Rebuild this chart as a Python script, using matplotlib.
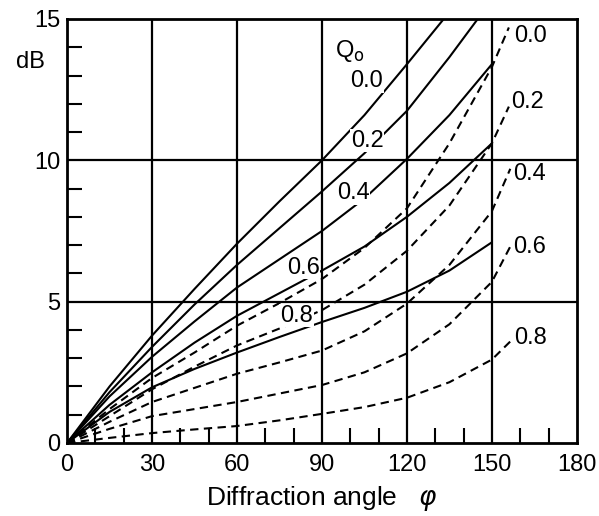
import matplotlib
matplotlib.use('Agg')
import matplotlib.pyplot as plt
from matplotlib.ticker import MultipleLocator

plt.rcParams['font.family'] = ['Liberation Sans', 'DejaVu Sans']

# Q0 values (labels) shared by the solid and dashed families
q_labels = ['0.0', '0.2', '0.4', '0.6', '0.8']

# Solid curves: (angle, dB)
solid_x = [
    [0, 15, 30, 45, 60, 75, 90, 105, 120, 133],
    [0, 15, 30, 45, 60, 75, 90, 105, 120, 135, 145],
    [0, 15, 30, 45, 60, 75, 90, 105, 120, 135, 150],
    [0, 15, 30, 45, 60, 75, 90, 105, 120, 135, 150],
    [0, 15, 30, 45, 60, 75, 90, 105, 120, 135, 150],
]
solid_y = [
    [0, 2.0, 3.8, 5.45, 7.05, 8.55, 10.0, 11.6, 13.4, 15.0],
    [0, 1.8, 3.4, 4.9, 6.3, 7.6, 8.9, 10.25, 11.75, 13.65, 15.0],
    [0, 1.65, 3.05, 4.3, 5.5, 6.5, 7.5, 8.65, 10.05, 11.6, 13.4],
    [0, 1.35, 2.5, 3.55, 4.5, 5.3, 6.1, 6.95, 8.0, 9.2, 10.6],
    [0, 1.1, 1.97, 2.62, 3.2, 3.75, 4.28, 4.78, 5.35, 6.1, 7.1],
]

# Dashed curves; last point is the leader running to the right-hand label
dash_x = [0, 15, 30, 45, 60, 75, 90, 105, 120, 135, 150]
dash_end_x = [156, 156, 156.5, 156.5, 157.6]
dash_y = [
    [0, 1.2, 2.3, 3.2, 4.15, 4.95, 5.8, 6.9, 8.3, 10.6, 13.3],
    [0, 0.95, 1.9, 2.7, 3.45, 4.05, 4.7, 5.6, 6.8, 8.4, 10.6],
    [0, 0.75, 1.45, 1.95, 2.45, 2.85, 3.27, 3.95, 4.93, 6.3, 8.2],
    [0, 0.5, 0.95, 1.2, 1.45, 1.75, 2.05, 2.5, 3.17, 4.2, 5.7],
    [0, 0.18, 0.35, 0.48, 0.6, 0.8, 1.03, 1.27, 1.6, 2.15, 2.95],
]
dash_end_y = [14.7, 11.9, 9.7, 6.95, 3.7]

# label positions (data coords)
solid_label_xy = [(105.7, 12.8), (106, 10.7), (101, 8.85), (83.4, 6.2), (81, 4.5)]
dash_label_xy = [(163.6, 14.4), (162.5, 12.05), (163.2, 9.5), (163.2, 6.95), (163.6, 3.7)]

fig = plt.figure(figsize=(5.99, 5.16), dpi=100)
ax = fig.add_axes([0.112, 0.1415, 0.851, 0.8217])

ax.set_xlim(0, 180)
ax.set_ylim(0, 15)

# grid
for gx in [30, 60, 90, 120, 150]:
    ax.axvline(gx, color='black', lw=1.6, zorder=1)
for gy in [5, 10]:
    ax.axhline(gy, color='black', lw=1.6, zorder=1)

for xs, ys in zip(solid_x, solid_y):
    ax.plot(xs, ys, color='black', lw=1.5, solid_capstyle='butt',
            solid_joinstyle='round', zorder=2)

for ys, ex, ey in zip(dash_y, dash_end_x, dash_end_y):
    ax.plot(dash_x + [ex], ys + [ey], color='black', lw=1.5,
            dashes=(4, 2.6), zorder=2)

fs = 17
for lab, (lx, ly) in zip(q_labels, solid_label_xy):
    ax.text(lx, ly, lab, fontsize=fs, ha='center', va='center',
            bbox=dict(facecolor='white', edgecolor='none', pad=0.5), zorder=3)
for lab, (lx, ly) in zip(q_labels, dash_label_xy):
    ax.text(lx, ly, lab, fontsize=fs, ha='center', va='center', zorder=3)
ax.text(100, 13.85, r'Q$_\mathrm{o}$', fontsize=fs, ha='center', va='center')

ax.set_xticks([0, 30, 60, 90, 120, 150, 180])
ax.set_yticks([0, 5, 10, 15])
ax.xaxis.set_minor_locator(MultipleLocator(10))
ax.yaxis.set_minor_locator(MultipleLocator(1))
ax.tick_params(which='major', length=0, labelsize=fs, pad=8)
ax.tick_params(axis='y', which='major', pad=5)
ax.tick_params(which='minor', direction='in', length=11, width=1.5)
for s in ax.spines.values():
    s.set_linewidth(2)

fig.text(0.05, 1 - 62 / 516, 'dB', fontsize=fs, ha='center', va='center')
ax.set_xlabel('Diffraction angle   $\\varphi$', fontsize=19, labelpad=6)

fig.savefig('out.png', dpi=100)
